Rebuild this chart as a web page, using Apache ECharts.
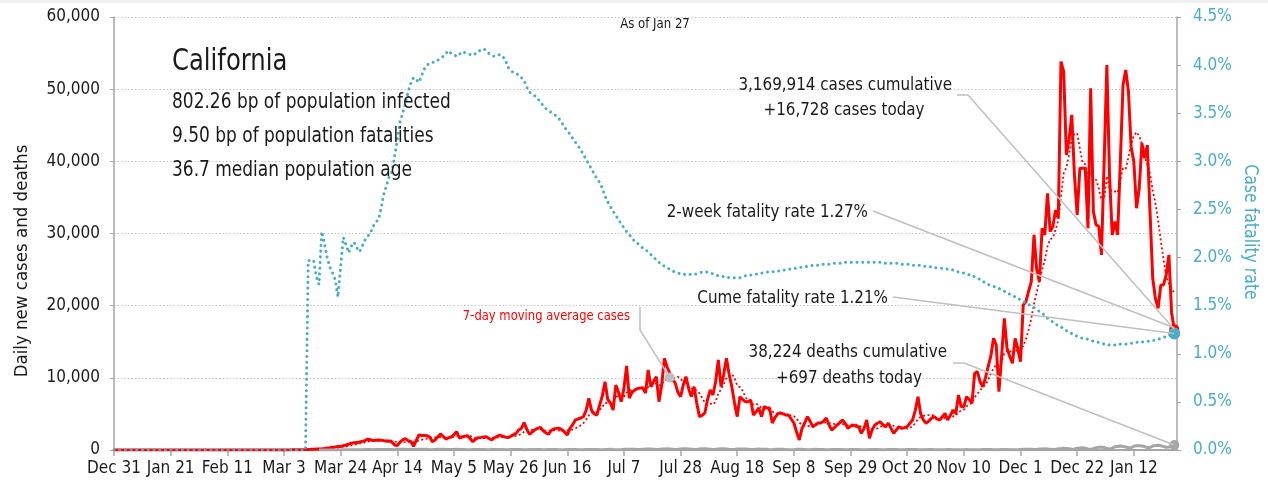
<!DOCTYPE html>
<html>
<head>
<meta charset="utf-8">
<title>California</title>
<script src="https://cdn.jsdelivr.net/npm/echarts@6/dist/echarts.min.js"></script>
<style>
  html, body { margin: 0; padding: 0; background: #fff; }
  #chart { width: 1268px; height: 491px; }
</style>
</head>
<body>
<div id="chart"></div>
<script>
// x axis: one category per day, Dec 31 2019 .. Jan 28 2021
const dayCount = 395;
const tickEvery = 21;
const tickLabels = ['Dec 31', 'Jan 21', 'Feb 11', 'Mar 3', 'Mar 24', 'Apr 14', 'May 5', 'May 26', 'Jun 16',
    'Jul 7', 'Jul 28', 'Aug 18', 'Sep 8', 'Sep 29', 'Oct 20', 'Nov 10', 'Dec 1', 'Dec 22', 'Jan 12'];

// daily new cases, from Dec 31 2019
const dailyCases = [
    0,0,0,0,0,0,0,
    0,0,0,0,0,0,0,
    0,0,0,0,0,0,0,
    0,0,0,0,0,0,1,
    0,0,0,1,1,0,0,
    0,0,0,0,0,0,0,
    0,0,0,0,0,0,0,
    0,0,0,0,0,1,0,
    0,0,1,2,3,2,5,
    10,12,15,20,25,30,40,
    50,60,80,90,110,130,150,
    180,220,270,310,380,420,480,
    500,600,700,800,950,1000,1050,
    1100,1200,1300,1500,1450,1300,1350,
    1400,1350,1300,1200,1250,1100,700,
    600,1100,1400,1570,1300,1200,500,
    1300,2080,2000,2000,1990,1800,1150,
    1400,1800,2220,1900,1520,1700,1800,
    2100,2540,1660,1800,1900,1990,1600,
    1150,1500,1710,1750,1800,1850,1600,
    1390,1700,1900,2080,1900,1800,1710,
    1900,2100,2300,2770,3000,3790,2900,
    2170,2500,2800,3000,3140,2700,2400,
    2170,2700,2900,3000,3000,2800,2500,
    2080,3000,3500,4160,4300,4430,4620,
    5500,7170,5500,5000,4850,6240,7500,
    9470,7000,6510,5540,9000,8000,6700,
    8500,11640,7200,8000,8300,8500,8600,
    8600,7900,11090,8770,9500,10160,6700,
    9000,12710,11500,10670,9800,9290,8000,
    7390,9000,10160,8500,7390,8770,6500,
    4620,4800,5130,7000,8310,7620,9500,
    12470,8770,10500,12710,10500,8770,6500,
    4620,7390,7000,6700,6700,6930,4850,
    5300,5820,4620,6000,5820,5820,3740,
    4500,5000,5130,5000,4850,4850,4300,
    3740,2500,1390,3000,3740,4620,4000,
    3230,3500,3740,3740,4000,4430,3500,
    2770,3100,3460,3800,4160,3700,3000,
    3300,3460,3300,3230,2310,3000,4160,
    1620,2800,3460,3700,3920,3500,3230,
    3700,3000,2310,2800,3230,3000,3100,
    3230,3700,4160,5500,7390,5000,4160,
    3700,4000,4400,4620,4300,4160,4600,
    5080,4160,4800,5540,5000,7620,6000,
    6000,7390,7000,6470,10630,10860,9500,
    8770,10000,11550,13000,15480,14550,8080,
    13000,18250,14090,13000,12010,15480,14000,
    12240,20100,20550,22000,23330,29800,25000,
    23330,30730,29800,35580,30260,31000,33260,
    32110,53820,52430,40890,43000,46430,38000,
    32570,39040,39040,39040,30730,50130,33030,
    31190,31000,27030,40000,53360,38000,29800,
    31650,29800,40000,50590,52670,49670,42000,
    39960,33500,36270,42510,40430,42270,33000,
    23800,21000,19640,22870,22870,24260,27030,
    19000,16728
];

// daily deaths, reported from Mar 16 (day 76)
const deathsStart = 76;
const dailyDeaths = [
    2,3,5,6,8,10,12,
    15,18,22,25,30,35,38,
    40,45,50,55,60,55,50,
    65,70,80,75,70,60,55,
    50,90,95,100,110,80,70,
    60,95,100,105,95,90,55,
    50,85,90,95,100,75,60,
    55,80,95,85,80,70,45,
    40,75,80,85,75,70,40,
    35,70,80,75,70,60,35,
    30,65,75,80,70,55,35,
    30,60,70,75,70,60,30,
    30,60,70,65,60,50,30,
    25,55,65,70,60,50,25,
    25,60,70,80,65,55,30,
    30,70,80,90,60,40,30,
    50,100,110,120,110,90,60,
    60,120,130,150,130,110,70,
    70,130,150,160,140,120,80,
    90,150,170,160,150,120,90,
    80,140,160,170,150,120,80,
    80,150,170,160,150,110,80,
    70,140,150,140,130,100,60,
    60,120,130,120,110,90,50,
    50,110,100,110,100,80,45,
    40,40,90,100,95,80,45,
    40,80,90,85,80,60,35,
    35,70,80,75,70,55,30,
    30,65,75,70,65,50,30,
    30,60,70,65,60,45,25,
    25,55,65,60,55,45,25,
    25,55,60,65,55,45,25,
    25,50,60,55,50,40,25,
    25,50,55,60,50,40,25,
    25,45,55,50,45,40,25,
    30,55,60,65,55,45,30,
    35,60,70,75,40,45,35,
    40,80,100,110,100,90,60,
    60,130,150,160,140,120,80,
    90,180,200,230,220,180,120,
    140,250,280,300,250,150,100,
    180,320,380,400,350,200,150,
    250,450,500,550,480,420,300,
    320,520,580,600,550,480,330,
    350,550,620,650,580,500,380,
    400,600,697
];

// case fatality rate, %, from Dec 31 2019
const fatalityRate = [
    0,0,0,0,0,0,0, 0,0,0,0,0,0,0, 0,0,0,0,0,0,0, 0,0,0,0,0,0,0,
    0,0,0,0,0,0,0, 0,0,0,0,0,0,0, 0,0,0,0,0,0,0, 0,0,0,0,0,0,0,
    0,0,0,0,0,0,0, 0,0,0,0,0,0,0, 0,0,
    1.97,1.97,1.97,1.80,1.72,2.27,2.15,
    2.00,1.90,1.84,1.77,1.59,1.90,2.21,
    2.13,2.05,2.12,2.16,2.10,2.06,2.12,
    2.18,2.22,2.25,2.32,2.37,2.39,2.51,
    2.66,2.75,2.84,2.89,3.05,3.22,3.41,
    3.50,3.60,3.72,3.81,3.87,3.85,3.82,
    3.89,3.96,4.00,4.02,4.03,4.03,4.05,
    4.07,4.09,4.12,4.15,4.12,4.11,4.09,
    4.11,4.14,4.13,4.12,4.11,4.10,4.12,
    4.14,4.16,4.17,4.15,4.12,4.10,4.09,
    4.10,4.11,4.09,4.06,3.98,3.95,3.92,
    3.91,3.90,3.87,3.84,3.77,3.72,3.70,
    3.68,3.65,3.62,3.58,3.55,3.53,3.51,
    3.49,3.47,3.44,3.40,3.35,3.32,3.28,
    3.24,3.20,3.16,3.12,3.07,3.02,2.97,
    2.92,2.87,2.82,2.78,2.72,2.64,2.58,
    2.53,2.48,2.44,2.39,2.35,2.31,2.27,
    2.24,2.20,2.17,2.15,2.12,2.10,2.08,
    2.06,2.03,2.00,1.98,1.95,1.93,1.91,
    1.89,1.88,1.86,1.85,1.84,1.83,1.83,
    1.82,1.82,1.83,1.83,1.83,1.84,1.85,
    1.85,1.85,1.84,1.83,1.82,1.81,1.81,
    1.80,1.80,1.79,1.79,1.79,1.79,1.79,
    1.80,1.81,1.81,1.82,1.82,1.83,1.83,
    1.84,1.84,1.85,1.85,1.85,1.86,1.86,
    1.86,1.87,1.87,1.88,1.88,1.89,1.89,
    1.90,1.90,1.90,1.91,1.91,1.92,1.92,
    1.92,1.93,1.93,1.93,1.93,1.94,1.94,
    1.94,1.94,1.95,1.95,1.95,1.95,1.95,
    1.95,1.95,1.95,1.95,1.95,1.95,1.95,
    1.95,1.95,1.95,1.95,1.94,1.94,1.94,
    1.94,1.94,1.94,1.93,1.93,1.93,1.93,
    1.92,1.92,1.92,1.92,1.91,1.91,1.91,
    1.90,1.90,1.89,1.89,1.89,1.88,1.88,
    1.88,1.87,1.86,1.85,1.84,1.84,1.83,
    1.82,1.82,1.80,1.79,1.77,1.75,1.74,
    1.72,1.71,1.70,1.69,1.68,1.66,1.65,
    1.63,1.62,1.61,1.59,1.58,1.56,1.54,
    1.53,1.51,1.50,1.48,1.46,1.44,1.42,
    1.40,1.37,1.35,1.33,1.31,1.29,1.28,
    1.26,1.24,1.22,1.21,1.20,1.18,1.17,
    1.16,1.16,1.15,1.14,1.13,1.12,1.12,
    1.11,1.10,1.10,1.09,1.09,1.09,1.09,
    1.10,1.10,1.10,1.11,1.11,1.11,1.12,
    1.12,1.12,1.13,1.13,1.13,1.14,1.14,
    1.15,1.16,1.17,1.18,1.19,1.20,1.21
];

const twoWeekRate = 1.27;
const maMarkerDay = 206;

const FONT = "'Liberation Sans Narrow', 'DejaVu Sans Condensed', 'Roboto', sans-serif";
const RED = '#ff0000';
const TEAL = '#4bacc6';
const GREY = '#a6a6a6';
const INK = '#1a1a1a';

// build series data
const days = [];
for (let i = 0; i < dayCount; i++) days.push(String(i));

// trailing 7-day moving average of daily cases
const movingAvg = dailyCases.map(function (v, i) {
    if (i < 6) return null;
    let s = 0;
    for (let k = i - 6; k <= i; k++) s += dailyCases[k];
    return Math.round(s / 7);
});

const deathsData = [];
for (let i = 0; i < deathsStart; i++) deathsData.push(null);
dailyDeaths.forEach(function (v) { deathsData.push(v); });

const last = dailyCases.length - 1;
const isTick = function (i) { return i % tickEvery === 0; };

const chart = echarts.init(document.getElementById('chart'));

const option = {
    animation: false,
    textStyle: { fontFamily: FONT },
    grid: { left: 114, right: 91, top: 17, bottom: 41 },
    xAxis: {
        type: 'category',
        data: days,
        boundaryGap: false,
        axisLine: { lineStyle: { color: GREY, width: 2 } },
        axisTick: { interval: function (i) { return isTick(i); }, length: 6, lineStyle: { color: GREY, width: 1.5 } },
        axisLabel: {
            interval: function (i) { return isTick(i); },
            formatter: function (v, i) { return tickLabels[i / tickEvery] || ''; },
            color: INK, fontSize: 17, margin: 10, fontFamily: FONT
        },
        splitLine: { show: false }
    },
    yAxis: [
        {
            type: 'value',
            min: 0, max: 60000, interval: 10000,
            axisLine: { show: true, lineStyle: { color: GREY, width: 1.5 } },
            axisTick: { show: true, length: 4, lineStyle: { color: GREY } },
            axisLabel: {
                formatter: function (v) { return v.toLocaleString('en-US'); },
                color: INK, fontSize: 17, margin: 14, fontFamily: FONT
            },
            splitLine: { show: true, lineStyle: { color: '#c4c4c4', type: [1.5, 2], width: 1 } }
        },
        {
            type: 'value',
            position: 'right',
            min: 0, max: 4.5, interval: 0.5,
            axisLine: { show: true, lineStyle: { color: GREY, width: 1.5 } },
            axisTick: { show: true, length: 4, lineStyle: { color: GREY } },
            axisLabel: {
                formatter: function (v) { return v.toFixed(1) + '%'; },
                color: TEAL, fontSize: 17, margin: 16, fontFamily: FONT
            },
            splitLine: { show: false }
        }
    ],
    series: [
        {
            name: 'Daily new cases',
            type: 'line',
            data: dailyCases,
            showSymbol: false,
            z: 3,
            lineStyle: { color: RED, width: 3 },
            itemStyle: { color: RED },
            markPoint: {
                symbol: 'circle', symbolSize: 10, label: { show: false },
                itemStyle: { color: RED },
                data: [{ coord: [last, dailyCases[last]] }]
            }
        },
        {
            name: '7-day moving average cases',
            type: 'line',
            data: movingAvg,
            showSymbol: false,
            z: 3,
            lineStyle: { color: RED, width: 1.8, type: [2, 2.5] },
            itemStyle: { color: RED },
            markPoint: {
                symbol: 'circle', symbolSize: 10, label: { show: false },
                itemStyle: { color: '#bfbfbf' },
                data: [{ coord: [maMarkerDay, movingAvg[maMarkerDay]] }]
            }
        },
        {
            name: 'Daily deaths',
            type: 'line',
            data: deathsData,
            showSymbol: false,
            z: 4,
            lineStyle: { color: GREY, width: 3 },
            itemStyle: { color: GREY },
            markPoint: {
                symbol: 'circle', symbolSize: 10, label: { show: false },
                itemStyle: { color: GREY },
                data: [{ coord: [last, deathsData[last]] }]
            }
        },
        {
            name: 'Case fatality rate',
            type: 'line',
            yAxisIndex: 1,
            data: fatalityRate,
            showSymbol: false,
            z: 5,
            lineStyle: { color: TEAL, width: 3, type: [0.1, 5.6], cap: 'round' },
            itemStyle: { color: TEAL },
            markPoint: {
                symbol: 'circle', symbolSize: 12, label: { show: false },
                itemStyle: { color: TEAL },
                data: [{ coord: [last, fatalityRate[last]] }]
            }
        }
    ]
};

chart.setOption(option);

// text boxes and leader lines; sx squeezes the text to a condensed look
function txt(x, y, s, size, opts) {
    opts = opts || {};
    return {
        type: 'text', x: x, y: y, rotation: opts.rotation || 0, z: 20,
        scaleX: opts.sx || 1,
        style: {
            text: s, fontSize: size, fontFamily: FONT,
            fill: opts.color || INK,
            align: opts.align || 'left', verticalAlign: 'middle'
        }
    };
}
function leader(points) {
    return {
        type: 'polyline', z: 15, silent: true,
        shape: { points: points },
        style: { stroke: '#bfbfbf', lineWidth: 1.5, fill: null }
    };
}

const pCases = chart.convertToPixel({ seriesIndex: 0 }, [last, dailyCases[last]]);
const pDeaths = chart.convertToPixel({ seriesIndex: 2 }, [last, deathsData[last]]);
const pCfr = chart.convertToPixel({ seriesIndex: 3 }, [last, fatalityRate[last]]);
const p2wk = chart.convertToPixel({ seriesIndex: 3 }, [last, twoWeekRate]);
const pMa = chart.convertToPixel({ seriesIndex: 1 }, [maMarkerDay, movingAvg[maMarkerDay]]);

chart.setOption({
    graphic: [
        { type: 'rect', shape: { x: 0, y: 0, width: 1268, height: 3 }, style: { fill: '#efefef' }, z: 1 },
        txt(172, 62, 'California', 30, { sx: 0.9 }),
        txt(172, 103, '802.26 bp of population infected', 21, { sx: 0.9 }),
        txt(172, 137, '9.50 bp of population fatalities', 21, { sx: 0.9 }),
        txt(172, 171, '36.7 median population age', 21, { sx: 0.9 }),
        txt(655, 24, 'As of Jan 27', 14.5, { align: 'center', sx: 0.9 }),
        txt(952, 85, '3,169,914 cases cumulative', 18.5, { align: 'right', sx: 0.91 }),
        txt(844, 110, '+16,728 cases today', 18.5, { align: 'center', sx: 0.91 }),
        txt(868, 212, '2-week fatality rate 1.27%', 18.5, { align: 'right', sx: 0.91 }),
        txt(888, 298, 'Cume fatality rate 1.21%', 18.5, { align: 'right', sx: 0.91 }),
        txt(947, 352, '38,224 deaths cumulative', 18.5, { align: 'right', sx: 0.91 }),
        txt(849, 378, '+697 deaths today', 18.5, { align: 'center', sx: 0.91 }),
        txt(630, 316, '7-day moving average cases', 14, { align: 'right', color: RED, sx: 0.92 }),
        txt(22, 261, 'Daily new cases and deaths', 18.5, { align: 'center', rotation: Math.PI / 2 }),
        txt(1250, 232, 'Case fatality rate', 19, { align: 'center', rotation: -Math.PI / 2, color: TEAL, sx: 0.92 }),
        leader([[957, 95], [968, 95], pCases]),
        leader([[873, 211], p2wk]),
        leader([[893, 297], pCfr]),
        leader([[953, 363], [964, 363], pDeaths]),
        leader([[640, 307], [640, 330], pMa])
    ]
});
</script>
</body>
</html>
